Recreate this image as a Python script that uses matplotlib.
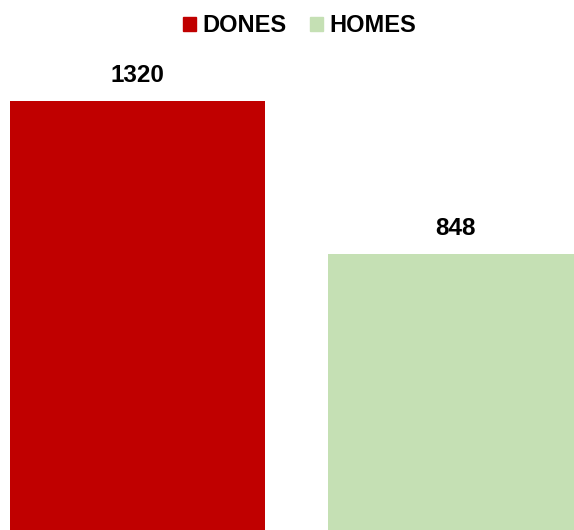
import matplotlib.pyplot as plt
from matplotlib.patches import Patch

# Data
categories = ["DONES", "HOMES"]
values = [1320, 848]
colors = ["#C00000", "#C5E0B4"]

plt.rcParams["font.family"] = ["Liberation Sans", "DejaVu Sans"]

fig = plt.figure(figsize=(5.74, 5.30), dpi=100)
ax = fig.add_axes([0, 0, 1, 1])

x = range(len(categories))
bars = ax.bar(x, values, width=0.802, color=colors)

# value labels above the bars
for b, v in zip(bars, values):
    ax.annotate(str(v), (b.get_x() + b.get_width() / 2, v),
                xytext=(0, 10), textcoords="offset points",
                ha="center", va="bottom", fontsize=17.5, fontweight="bold")

ax.set_xlim(-0.4324, 1.3726)
ax.set_ylim(0, 1630)
ax.axis("off")

handles = [Patch(color=c, label=l) for c, l in zip(colors, categories)]
leg = fig.legend(handles=handles, loc="center", bbox_to_anchor=(0.522, 0.951),
                 ncol=2, frameon=False, handlelength=0.55, handleheight=0.55,
                 handletextpad=0.25, columnspacing=1.0,
                 prop={"size": 17, "weight": "bold"})

fig.savefig("out.png", dpi=100)
